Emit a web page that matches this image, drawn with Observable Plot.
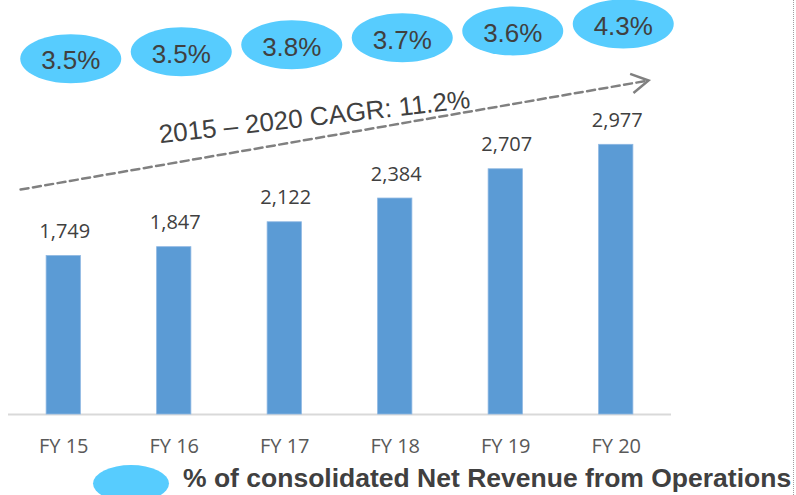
<!DOCTYPE html>
<html>
<head>
<meta charset="utf-8">
<script src="https://cdn.jsdelivr.net/npm/d3@7"></script>
<script src="https://cdn.jsdelivr.net/npm/@observablehq/plot@0.6"></script>
<style>
  body { margin: 0; background: #fff; }
  #wrap { position: relative; width: 796px; height: 495px; overflow: hidden; }
  #chart svg { display: block; }
  #legend-swatch { position: absolute; left: 93px; top: 465px; width: 76px; height: 37px; border-radius: 50%; background: #57CCFE; }
  #legend-text { position: absolute; left: 183px; top: 464.6px; font: bold 26.5px "Liberation Sans", Arial, sans-serif; line-height: 1; color: #404040; white-space: nowrap; }
  #vline { position: absolute; left: 793px; top: 0; height: 495px; border-left: 1px dotted #a0a0a0; }
</style>
</head>
<body>
<div id="wrap">
  <div id="chart"></div>
  <div id="legend-swatch"></div>
  <div id="legend-text"></div>
  <div id="vline"></div>
</div>
<script>
// ---- data ----
const years = ["FY 15", "FY 16", "FY 17", "FY 18", "FY 19", "FY 20"];
const revenue = [1749, 1847, 2122, 2384, 2707, 2977];
const shareOfRevenue = [3.5, 3.5, 3.8, 3.7, 3.6, 4.3];
const cagrLabel = "2015 – 2020 CAGR: 11.2%";
const legendLabel = "% of consolidated Net Revenue from Operations";

document.getElementById("legend-text").textContent = legendLabel;

const rows = years.map((year, i) => ({year, revenue: revenue[i], share: shareOfRevenue[i], i}));

// ---- layout helpers ----
const H = 460, MB = 46, YMAX = 4570;
const plotH = H - MB;
const pxToY = p => (plotH - p) * YMAX / plotH;            // pixel row -> y value
const bubbleY = d => pxToY(40.8 - 6.94 * (d.i - 2.5));     // rising row of bubbles

const K = 0.5523;
const ellipse = (rx, ry) => ({
  draw(ctx) {
    ctx.moveTo(rx, 0);
    ctx.bezierCurveTo(rx, ry * K, rx * K, ry, 0, ry);
    ctx.bezierCurveTo(-rx * K, ry, -rx, ry * K, -rx, 0);
    ctx.bezierCurveTo(-rx, -ry * K, -rx * K, -ry, 0, -ry);
    ctx.bezierCurveTo(rx * K, -ry, rx, -ry * K, rx, 0);
    ctx.closePath();
  }
});
const chevron = {
  draw(ctx) { ctx.moveTo(-17, -9.7); ctx.lineTo(0, 0); ctx.lineTo(-17, 9.7); }
};

const gray = "#808080";
const plot = Plot.plot({
  width: 796,
  height: H,
  marginLeft: 8,
  marginRight: 125,
  marginTop: 0,
  marginBottom: MB,
  style: {fontFamily: "'Open Sans', sans-serif", background: "transparent", overflow: "visible"},
  x: {domain: years, paddingInner: 0.69, paddingOuter: 0.345, round: false},
  y: {domain: [0, YMAX], axis: null},
  marks: [
    Plot.ruleY([0], {stroke: "#d9d9d9", strokeWidth: 2}),
    Plot.barY(rows, {x: "year", y: "revenue", fill: "#5B9BD5", stroke: "#8DB7E2", strokeWidth: 0.8}),
    Plot.text(rows, {x: "year", y: "revenue", text: d => d3.format(",")(d.revenue),
      dy: -18, dx: 1, lineAnchor: "bottom", fontSize: 20, fill: "#404040"}),
    Plot.axisX({tickSize: 0, tickPadding: 24.5, fontSize: 20, fill: "#595959", label: null}),
    // CAGR arrow
    Plot.arrow([{}], {x1: () => "FY 15", y1: () => 2566, x2: () => "FY 20", y2: () => 3625,
      insetStart: -43.8, insetEnd: -32.8, headLength: 0,
      stroke: gray, strokeWidth: 2.5, strokeDasharray: "8,4.5"}),
    Plot.dot([{}], {x: () => "FY 20", y: () => pxToY(80), dx: 32.3, symbol: chevron, rotate: -9.85,
      fill: "none", stroke: gray, strokeWidth: 2.5}),
    Plot.text([cagrLabel], {x: () => "FY 17", y: () => pxToY(116.8), dx: 29.8, text: d => d,
      rotate: -6.5, fontSize: 26, fontFamily: "'Liberation Sans', Arial, sans-serif", fill: "#404040"}),
    // share bubbles
    Plot.dot(rows, {x: "year", y: bubbleY, dx: 7, symbol: ellipse(50.5, 24.5), fill: "#57CCFE", stroke: "none"}),
    Plot.text(rows, {x: "year", y: bubbleY, dx: 7, dy: 2.5, text: d => d.share.toFixed(1) + "%",
      fontSize: 26, fontFamily: "'Liberation Sans', Arial, sans-serif", fill: "#404040"})
  ]
});
document.getElementById("chart").append(plot);
</script>
</body>
</html>
